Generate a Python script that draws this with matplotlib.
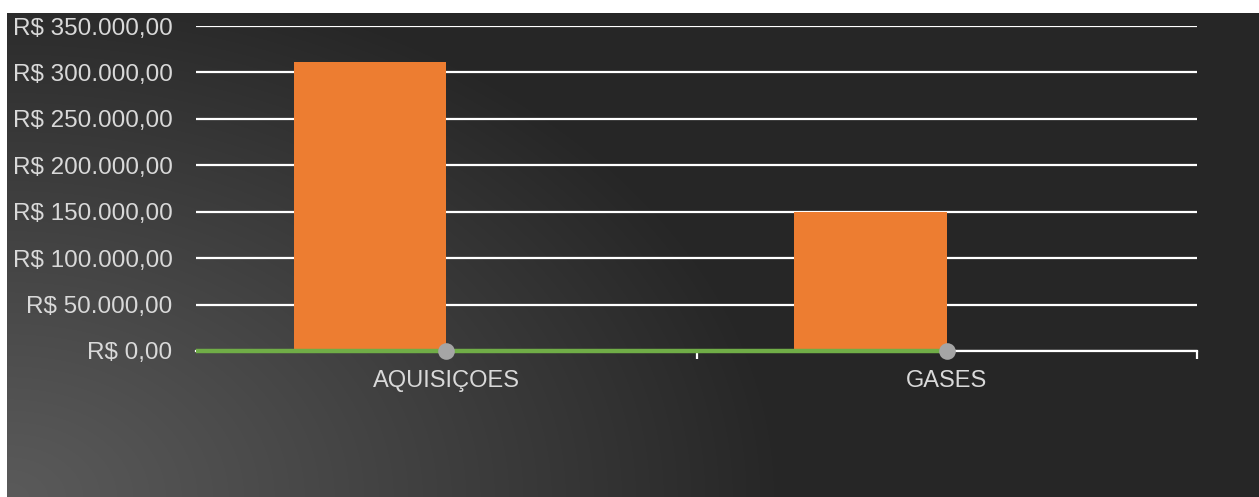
import matplotlib

matplotlib.use("Agg")
import matplotlib.pyplot as plt
import numpy as np
from matplotlib.ticker import FuncFormatter, FixedLocator

categories = ["AQUISIÇOES", "GASES"]
orange_values = [311000, 150000]
line_values = [0, 0]
y_ticks = [0, 50000, 100000, 150000, 200000, 250000, 300000, 350000]

W, H = 1259, 497


def brl(value, _pos=None):
    s = f"{value:,.2f}"
    s = s.replace(",", "X").replace(".", ",").replace("X", ".")
    return f"R$ {s}"


fig = plt.figure(figsize=(W / 100, H / 100), dpi=100)
fig.patch.set_facecolor("white")

# dark background with a soft lighter glow in the lower-left corner
bg_left, bg_top = 7 / W, 13 / H
bg = fig.add_axes([bg_left, 0, 1 - bg_left, 1 - bg_top])
gw, gh = W - 7, H - 13
yy, xx = np.mgrid[0:gh, 0:gw]
dist = np.sqrt((xx * 1.0) ** 2 + ((gh - yy) * 1.45) ** 2)
t = np.clip(dist / 780, 0, 1) ** 1.1
level = (0x5a + (0x26 - 0x5a) * t) / 255
bg.imshow(np.dstack([level, level, level]), aspect="auto", extent=[0, gw, 0, gh], origin="upper")
bg.set_axis_off()

ax = fig.add_axes([196 / W, (H - 351) / H, (1197 - 196) / W, (351 - 26) / H])
ax.set_facecolor("none")
x = np.arange(len(categories))
bar_w = 0.305

ax.bar(x - bar_w / 2, orange_values, width=bar_w, color="#ed7d31", zorder=2)
ax.plot([-0.5, x[-1]], [line_values[0], line_values[-1]], color="#70ad47", lw=3.2, zorder=4,
        solid_capstyle="butt", clip_on=False)
ax.plot(x, line_values, linestyle="none", marker="o", ms=12, color="#a5a5a5",
        markeredgewidth=0, zorder=5, clip_on=False)

ax.set_xlim(-0.5, 1.5)
ax.set_ylim(0, 350000)
ax.yaxis.set_major_locator(FixedLocator(y_ticks))
ax.yaxis.set_major_formatter(FuncFormatter(brl))
ax.grid(axis="y", color="white", lw=1.6, zorder=1)
ax.set_axisbelow(True)

ax.set_xticks(x)
ax.set_xticklabels(categories)
ax.xaxis.set_minor_locator(FixedLocator([0.5, 1.5]))
ax.tick_params(axis="x", which="major", length=0, pad=14, labelsize=17, labelcolor="#d9d9d9")
ax.tick_params(axis="x", which="minor", length=6, width=1.6, color="white")
ax.tick_params(axis="y", length=0, pad=17, labelsize=17.5, labelcolor="#d9d9d9")
for lbl in ax.get_xticklabels() + ax.get_yticklabels():
    lbl.set_family(["Liberation Sans", "DejaVu Sans"])

for side in ["top", "right", "left"]:
    ax.spines[side].set_visible(False)
ax.spines["bottom"].set_color("white")
ax.spines["bottom"].set_linewidth(1.6)

fig.savefig("out.png", dpi=100)
plt.close(fig)
